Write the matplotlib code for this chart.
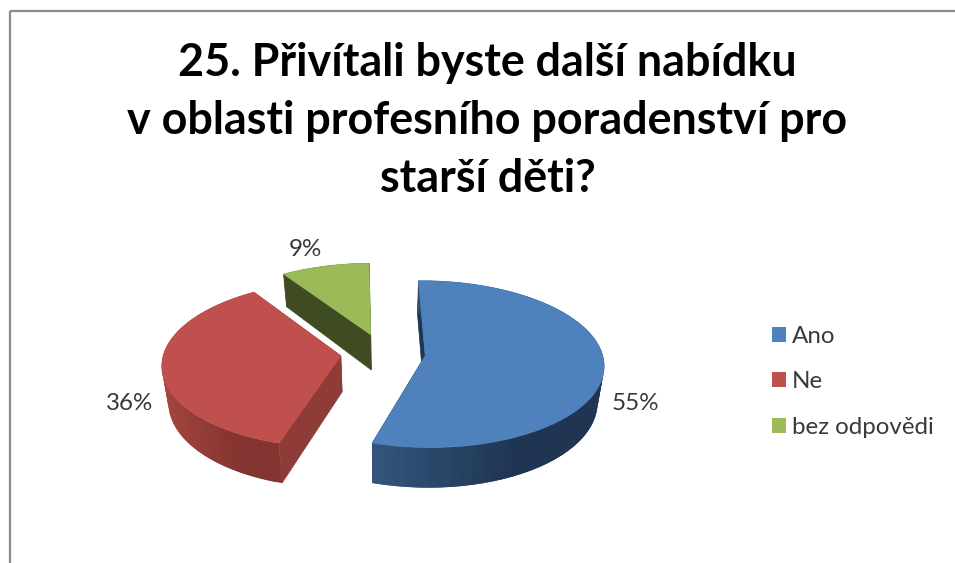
import numpy as np
import matplotlib
matplotlib.use("Agg")
import matplotlib.pyplot as plt
from matplotlib.collections import PolyCollection
from matplotlib.patches import Patch, Polygon, Rectangle

title = "25. Přivítali byste další nabídku\nv oblasti profesního poradenství pro\nstarší děti?"
labels = ["Ano", "Ne", "bez odpovědi"]
values = [55, 36, 9]
value_text = ["55%", "36%", "9%"]

top_colors = ["#4f81bd", "#c0504d", "#9bbb59"]
cut_colors = ["#1f3552", "#8f3b37", "#3f4b20"]
rim_left = ["#34567f", "#a5453f", "#3f4b20"]
rim_right = ["#1f3552", "#843431", "#3f4b20"]

# fake 3d camera, everything in image pixels
CX, CY = 383, 353
RX, RY = 177, 82
PERSP = 0.10
DEPTH = 36
SHRINK = 0.97
EXPLODE = 0.24
START = -1


def project(x, y, bottom=False):
    s = 1 / (1 + PERSP * y)
    px = RX * x * s
    py = -RY * y * s
    if bottom:
        return CX + px * SHRINK, CY + py + DEPTH * s
    return CX + px, CY + py


def lerp_color(c1, c2, t):
    a = np.array(matplotlib.colors.to_rgb(c1))
    b = np.array(matplotlib.colors.to_rgb(c2))
    return tuple(a + (b - a) * t)


fig = plt.figure(figsize=(9.55, 5.63), dpi=100)
ax = fig.add_axes([0, 0, 1, 1])
ax.set_xlim(0, 955)
ax.set_ylim(563, 0)
ax.axis("off")

ax.add_patch(Rectangle((9.5, 10.5), 980, 600, fill=False, edgecolor="#8c8c8c", linewidth=1.6))

edges = START + 360 * np.cumsum([0] + values) / sum(values)

for i in [2, 1, 0]:
    a0, a1 = np.radians(edges[i]), np.radians(edges[i + 1])
    mid = (a0 + a1) / 2
    ox, oy = EXPLODE * np.sin(mid), EXPLODE * np.cos(mid)
    ang = np.linspace(a0, a1, 60)
    xs = ox + np.sin(ang)
    ys = oy + np.cos(ang)

    # the two cut faces go first, top face hides the ones looking away
    for ex, ey in [(xs[0], ys[0]), (xs[-1], ys[-1])]:
        quad = [project(ox, oy), project(ex, ey), project(ex, ey, True), project(ox, oy, True)]
        ax.add_patch(Polygon(quad, closed=True, facecolor=cut_colors[i], edgecolor=cut_colors[i], linewidth=0.5))

    # outer rim as small quads, darker to the right
    # each quad overlaps the next one so no seams show
    tx, ty = project(xs, ys)
    bx, by = project(xs, ys, True)
    quads = []
    cols = []
    x_lo, x_hi = tx.min(), tx.max()
    for j in range(len(ang) - 1):
        k = min(j + 2, len(ang) - 1)
        quads.append([(tx[j], ty[j]), (tx[j + 1], ty[j + 1]), (tx[k], ty[k]),
                      (bx[k], by[k]), (bx[j + 1], by[j + 1]), (bx[j], by[j])])
        t = min(1, (tx[j] - x_lo) / max(1, (x_hi - x_lo) * 0.65))
        cols.append(lerp_color(rim_left[i], rim_right[i], t))
    ax.add_collection(PolyCollection(quads, facecolors=cols, edgecolors="none", linewidths=0))

    top = [project(ox, oy)] + list(zip(tx, ty))
    ax.add_patch(Polygon(top, closed=True, facecolor=top_colors[i], edgecolor=top_colors[i], linewidth=0.5))

ax.text(487.5, 121, title, ha="center", va="center", family="Lato", fontweight="bold",
        fontsize=32.3, color="black", linespacing=1.47)

label_pos = [(635, 404), (130, 404), (305, 249)]
for txt, pos in zip(value_text, label_pos):
    ax.text(pos[0], pos[1], txt, ha="center", va="center", family="Lato", fontsize=17.4, color="#3a3a3a")

handles = [Patch(facecolor=c, edgecolor="none") for c in top_colors]
ax.legend(handles, labels, loc="center left", bbox_to_anchor=(772, 382), bbox_transform=ax.transData,
          frameon=False, prop={"family": "Lato", "size": 17.4}, labelcolor="#3a3a3a",
          handlelength=0.58, handleheight=0.58, handletextpad=0.25, labelspacing=1.03, borderpad=0, borderaxespad=0)

fig.savefig("out.png", dpi=100)
